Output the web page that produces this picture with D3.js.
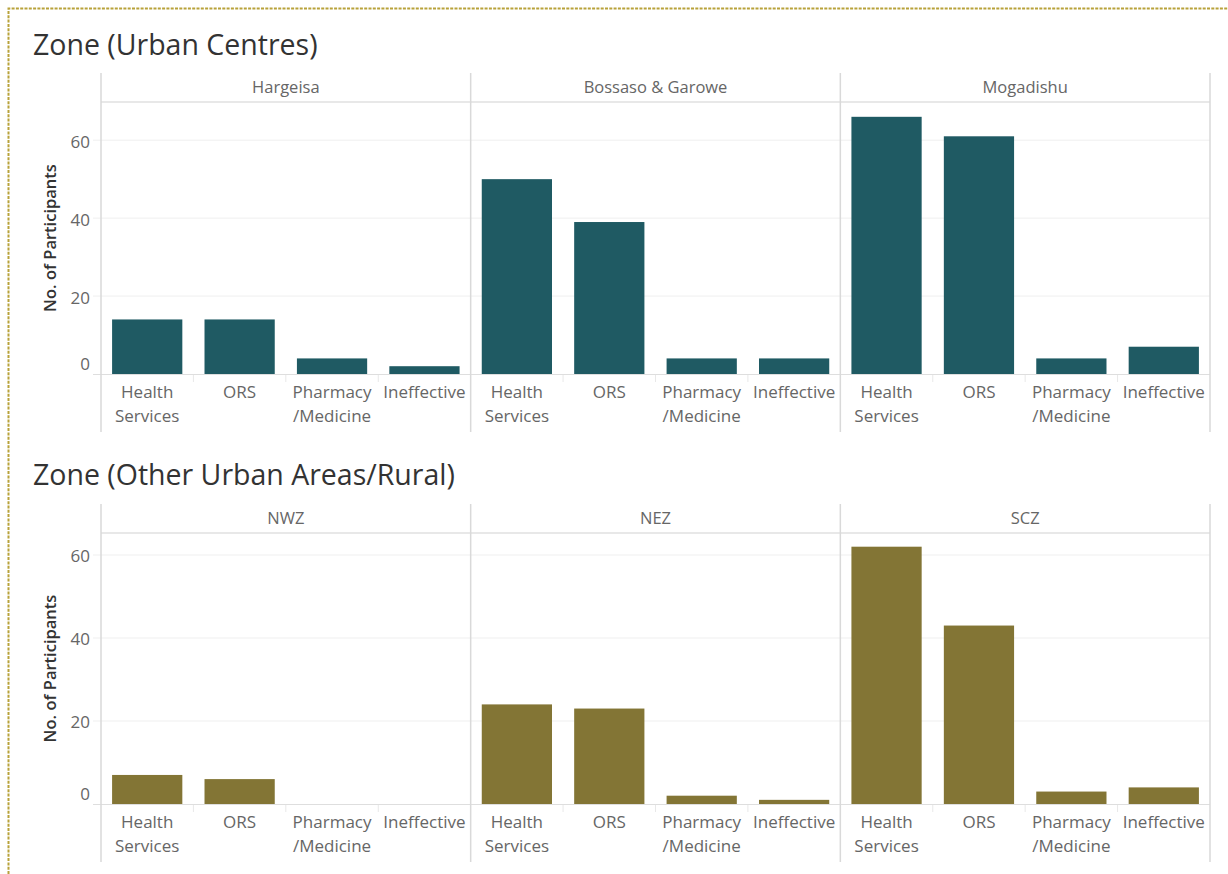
<!DOCTYPE html>
<html>
<head>
<meta charset="utf-8">
<script src="https://cdn.jsdelivr.net/npm/d3@7"></script>
<style>
  body { margin: 0; background: #fff; }
  svg { display: block; font-family: "Open Sans", "Noto Sans", sans-serif; }
</style>
</head>
<body>
<svg id="chart" width="1228" height="874"></svg>
<script>
// categories, one entry per bar in each panel
var categories = ["Health Services", "ORS", "Pharmacy /Medicine", "Ineffective"];
var categoryLines = [["Health", "Services"], ["ORS"], ["Pharmacy", "/Medicine"], ["Ineffective"]];
var yTicks = [0, 20, 40, 60];

// Zone (Urban Centres)
var urbanZones = ["Hargeisa", "Bossaso & Garowe", "Mogadishu"];
var urbanValues = [
    [14, 14, 4, 2],
    [50, 39, 4, 4],
    [66, 61, 4, 7]
];

// Zone (Other Urban Areas/Rural)
var ruralZones = ["NWZ", "NEZ", "SCZ"];
var ruralValues = [
    [7, 6, 0, 0],
    [24, 23, 2, 1],
    [62, 43, 3, 4]
];

var svg = d3.select("#chart");

// dotted dashboard frame
svg.append("path")
    .attr("d", "M8.5,874 L8.5,8.5 L1228,8.5")
    .attr("fill", "none")
    .attr("stroke", "#b8a23a")
    .attr("stroke-width", 2)
    .attr("stroke-dasharray", "3,1.3");

var LEFT = 101, RIGHT = 1210;

function drawZone(title, zones, values, color, top, yMax, titleY) {
    var headerTop = top.header, headerBottom = top.plotTop, zeroY = top.zero, bottom = top.bottom;

    svg.append("text")
        .attr("x", 33)
        .attr("y", titleY)
        .attr("fill", "#333")
        .style("font-size", "28.5px")
        .text(title);

    var g = svg.append("g");

    var y = d3.scaleLinear().domain([0, yMax]).range([zeroY, headerBottom]);
    var panelX = d3.scaleBand().domain(zones).range([LEFT, RIGHT]).padding(0);

    // grid lines
    g.selectAll(".grid")
        .data(yTicks.filter(function(t){ return t > 0; }))
        .enter().append("line")
        .attr("x1", LEFT - 8).attr("x2", RIGHT)
        .attr("y1", function(d){ return y(d); })
        .attr("y2", function(d){ return y(d); })
        .attr("stroke", "#efefef")
        .attr("stroke-width", 1);

    g.selectAll(".ytick")
        .data(yTicks)
        .enter().append("text")
        .attr("x", 90)
        .attr("y", function(d){ return d == 0 ? y(d) - 10 : y(d) + 1; })
        .attr("dy", "0.38em")
        .attr("text-anchor", "end")
        .attr("fill", "#666")
        .style("font-size", "17px")
        .text(function(d){ return d; });

    // axis title
    g.append("text")
        .attr("transform", "translate(50," + ((headerBottom + zeroY) / 2) + ") rotate(-90)")
        .attr("text-anchor", "middle")
        .attr("dy", "0.35em")
        .attr("fill", "#333")
        .style("font-size", "16.5px")
        .style("font-weight", 600)
        .text("No. of Participants");

    zones.forEach(function(zone, zi) {
        var x0 = panelX(zone);
        var x = d3.scaleBand()
            .domain(categories)
            .range([x0, x0 + panelX.bandwidth()])
            .paddingInner(0.24)
            .paddingOuter(0.12);
        var step = x.step();

        var pg = g.append("g");

        pg.append("text")
            .attr("x", x0 + panelX.bandwidth() / 2)
            .attr("y", (headerTop + headerBottom) / 2)
            .attr("dy", "0.35em")
            .attr("text-anchor", "middle")
            .attr("fill", "#666")
            .style("font-size", "16.5px")
            .text(zone);

        pg.selectAll(".bar")
            .data(values[zi])
            .enter().append("rect")
            .attr("x", function(d, i){ return x(categories[i]); })
            .attr("y", function(d){ return y(d); })
            .attr("width", x.bandwidth())
            .attr("height", function(d){ return y(0) - y(d); })
            .attr("fill", color);

        // separators between categories
        pg.selectAll(".sep")
            .data(d3.range(1, categories.length))
            .enter().append("line")
            .attr("x1", function(i){ return x0 + i * step; })
            .attr("x2", function(i){ return x0 + i * step; })
            .attr("y1", zeroY).attr("y2", zeroY + 8)
            .attr("stroke", "#e8e8e8");

        var labels = pg.selectAll(".xlab")
            .data(categoryLines)
            .enter().append("text")
            .attr("text-anchor", "middle")
            .attr("fill", "#666")
            .style("font-size", "17px");
        labels.selectAll("tspan")
            .data(function(d, i){ return d.map(function(t){ return {t: t, i: i}; }); })
            .enter().append("tspan")
            .attr("x", function(d){ return x(categories[d.i]) + x.bandwidth() / 2; })
            .attr("y", function(d, j){ return zeroY + 24 + j * 24; })
            .text(function(d){ return d.t; });
    });

    // zero line
    g.append("line")
        .attr("x1", LEFT - 8).attr("x2", RIGHT)
        .attr("y1", zeroY + 0.5).attr("y2", zeroY + 0.5)
        .attr("stroke", "#dedede");

    // header bottom line
    g.append("line")
        .attr("x1", LEFT).attr("x2", RIGHT)
        .attr("y1", headerBottom).attr("y2", headerBottom)
        .attr("stroke", "#e0e0e0")
        .attr("stroke-width", 1.5);

    // panel dividers
    var edges = zones.map(function(z){ return panelX(z); }).concat([RIGHT]);
    g.selectAll(".div")
        .data(edges)
        .enter().append("line")
        .attr("x1", function(d){ return d; })
        .attr("x2", function(d){ return d; })
        .attr("y1", headerTop).attr("y2", bottom)
        .attr("stroke", "#d9d9d9")
        .attr("stroke-width", 1.5);
}

drawZone("Zone (Urban Centres)", urbanZones, urbanValues, "#1f5a63",
    {header: 73, plotTop: 102, zero: 374, bottom: 432}, 69.8, 55);

drawZone("Zone (Other Urban Areas/Rural)", ruralZones, ruralValues, "#837535",
    {header: 504, plotTop: 533, zero: 804, bottom: 862}, 65.3, 485);
</script>
</body>
</html>
